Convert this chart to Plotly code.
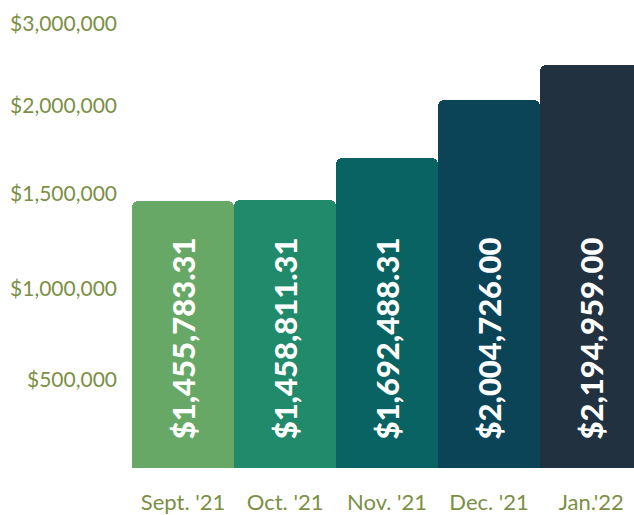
import plotly.graph_objects as go

months = ["Sept. '21", "Oct. '21", "Nov. '21", "Dec. '21", "Jan.'22"]
revenue = [1455783.31, 1458811.31, 1692488.31, 2004726.00, 2194959.00]
bar_colors = ["#68A866", "#208A6A", "#086362", "#0B4357", "#223140"]

tick_labels = ["$500,000", "$1,000,000", "$1,500,000", "$2,000,000", "$3,000,000"]
tick_values = [483500, 979500, 1497000, 1977000, 2424000]

labels = ["${:,.2f}".format(v) for v in revenue]

fig = go.Figure(
    go.Bar(
        x=months,
        y=revenue,
        marker=dict(color=bar_colors, line=dict(width=0)),
        hoverinfo="skip",
    )
)

label_y = 707000
for m, t in zip(months, labels):
    fig.add_annotation(
        x=m, y=label_y, text=t, textangle=-90, showarrow=False,
        xanchor="center", yanchor="middle",
        font=dict(family="Lato", size=31, color="#FFFFFF", weight=900),
    )

fig.update_layout(
    width=634, height=515,
    margin=dict(l=132, r=0, t=0, b=47, autoexpand=False),
    paper_bgcolor="white", plot_bgcolor="white",
    bargap=0, barcornerradius=6,
    showlegend=False,
    xaxis=dict(
        range=[-0.5, 4.42], showgrid=False, zeroline=False, showline=False,
        ticks="", ticklabelstandoff=19, automargin=False,
        tickfont=dict(family="Lato", size=22, color="#7B8F45"),
        fixedrange=True,
    ),
    yaxis=dict(
        range=[0, 2551000], showgrid=False, zeroline=False, showline=False,
        tickvals=tick_values, ticktext=tick_labels, ticks="",
        ticklabelstandoff=14, automargin=False,
        tickfont=dict(family="Lato", size=21, color="#7B8F45"),
        fixedrange=True,
    ),
)

fig.write_html(
    "out.html",
    config={"displayModeBar": False},
    post_script="document.body.style.margin='0';document.body.style.overflow='hidden';",
)
